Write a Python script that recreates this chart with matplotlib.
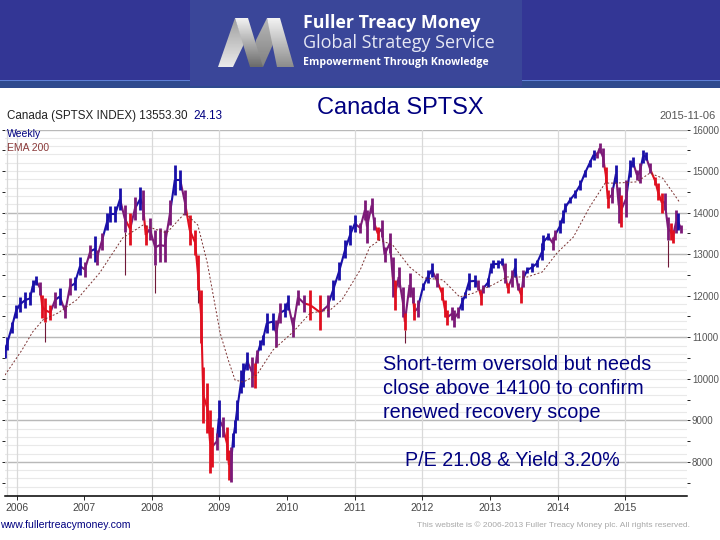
import numpy as np
import matplotlib
matplotlib.use("Agg")
import matplotlib.pyplot as plt
from matplotlib.patches import Rectangle, Polygon
from matplotlib.collections import LineCollection

plt.rcParams['font.family'] = ['Liberation Sans', 'DejaVu Sans']

# decimal year, bar high, bar low
years = [2005.83, 2005.86, 2005.93, 2005.99, 2006.05, 2006.13, 2006.20, 2006.24, 2006.29, 2006.35,
         2006.38, 2006.42, 2006.50, 2006.57, 2006.64, 2006.72, 2006.79, 2006.86, 2006.94, 2007.01,
         2007.09, 2007.16, 2007.19, 2007.26, 2007.34, 2007.38, 2007.46, 2007.53, 2007.60, 2007.68,
         2007.75, 2007.83, 2007.87, 2007.91, 2007.97, 2008.05, 2008.12, 2008.19, 2008.27, 2008.34,
         2008.42, 2008.49, 2008.56, 2008.64, 2008.68, 2008.73, 2008.76, 2008.82, 2008.86, 2008.89,
         2008.96, 2008.99, 2009.05, 2009.11, 2009.14, 2009.17, 2009.20, 2009.23, 2009.26, 2009.32,
         2009.35, 2009.41, 2009.48, 2009.52, 2009.55, 2009.60, 2009.64, 2009.70, 2009.79, 2009.84,
         2009.89, 2009.97, 2010.01, 2010.09, 2010.16, 2010.25, 2010.34, 2010.49, 2010.60, 2010.68,
         2010.77, 2010.86, 2010.93, 2011.00, 2011.08, 2011.15, 2011.18, 2011.25, 2011.29, 2011.34,
         2011.40, 2011.44, 2011.52, 2011.56, 2011.59, 2011.65, 2011.71, 2011.74, 2011.81, 2011.86,
         2011.88, 2011.93, 2012.01, 2012.08, 2012.14, 2012.21, 2012.29, 2012.33, 2012.36, 2012.44,
         2012.47, 2012.53, 2012.58, 2012.63, 2012.69, 2012.78, 2012.82, 2012.87, 2012.89, 2012.97,
         2013.01, 2013.04, 2013.12, 2013.18, 2013.22, 2013.26, 2013.32, 2013.37, 2013.41, 2013.46,
         2013.49, 2013.55, 2013.62, 2013.69, 2013.77, 2013.78, 2013.86, 2013.93, 2013.96, 2014.03,
         2014.08, 2014.11, 2014.18, 2014.25, 2014.33, 2014.40, 2014.47, 2014.53, 2014.58, 2014.62,
         2014.67, 2014.71, 2014.74, 2014.80, 2014.86, 2014.90, 2014.93, 2015.01, 2015.07, 2015.11,
         2015.17, 2015.21, 2015.26, 2015.30, 2015.36, 2015.44, 2015.48, 2015.54, 2015.58, 2015.63,
         2015.67, 2015.70, 2015.75, 2015.78, 2015.82]
highs = [10810, 11000, 11370, 11770, 11970, 12090, 12090, 12380, 12470, 12330,
         12020, 11940, 11770, 12090, 12180, 11770, 12420, 12450, 12930, 12810,
         13220, 13440, 13100, 13510, 13990, 14160, 14160, 14590, 14180, 13990,
         14370, 14610, 14540, 13700, 13870, 13580, 13630, 13580, 14300, 15150,
         15030, 14540, 13940, 13580, 12980, 12140, 10280, 9900, 9250, 8840,
         8690, 9490, 9080, 8840, 8290, 8360, 8690, 9010, 9490, 10210,
         10380, 10640, 10520, 10380, 10690, 10930, 11050, 11580, 11580, 11410,
         11820, 11820, 12020, 11490, 12140, 12020, 12140, 12020, 12020, 12380,
         12810, 13340, 13700, 13940, 13750, 14300, 14060, 14350, 13890, 13650,
         13820, 13170, 13510, 12930, 12380, 12690, 12210, 11580, 12550, 12210,
         11820, 11900, 12300, 12620, 12790, 12550, 12210, 11900, 11650, 11730,
         11650, 11730, 11970, 12090, 12550, 12500, 12380, 12140, 12260, 12430,
         12790, 12860, 12860, 12910, 12790, 12300, 12620, 12910, 12300, 12210,
         12620, 12690, 12790, 12860, 13270, 13460, 13510, 13410, 13580, 13820,
         14060, 14230, 14370, 14540, 14780, 15030, 15270, 15510, 15460, 15680,
         15550, 15100, 14540, 14620, 15150, 14620, 14420, 14780, 15270, 15340,
         15030, 15190, 15510, 15460, 15190, 14860, 14710, 14470, 14470, 13890,
         13750, 13580, 14060, 13990, 13700]
lows = [10500, 10690, 11100, 11460, 11610, 11700, 11780, 12090, 12260, 12020,
        11460, 11370, 11415, 11700, 11780, 11460, 12020, 12130, 12500, 12450,
        12910, 12810, 12740, 13100, 13580, 13770, 13770, 14060, 13530, 13220,
        13820, 14060, 13820, 13220, 13340, 12740, 12810, 12810, 13700, 14420,
        14540, 13940, 13220, 12980, 12140, 10860, 8940, 8690, 7730, 7880,
        8290, 8600, 8600, 8050, 7560, 7520, 8360, 8690, 9010, 9660,
        9800, 10210, 9800, 9780, 10380, 10690, 10810, 11100, 11170, 10770,
        11340, 11490, 11650, 11000, 11780, 11610, 11410, 11170, 11490, 11900,
        12380, 12910, 13220, 13530, 13510, 13820, 13270, 13990, 13580, 13340,
        13410, 12810, 13030, 11970, 11650, 12210, 11490, 11170, 11970, 11820,
        11410, 11490, 12140, 12300, 12450, 12210, 11900, 11490, 11290, 11410,
        11250, 11460, 11650, 11940, 12140, 12210, 12140, 11780, 12060, 12210,
        12550, 12670, 12670, 12740, 12300, 12060, 12210, 12450, 12140, 11820,
        12210, 12550, 12570, 12690, 12860, 13100, 13340, 13100, 13340, 13510,
        13750, 14010, 14230, 14350, 14540, 14860, 15100, 15270, 15310, 15430,
        15100, 14710, 14110, 14230, 14710, 13750, 13650, 13890, 14860, 15100,
        14780, 14710, 15190, 15270, 14950, 14660, 14300, 13990, 14060, 13340,
        13340, 13270, 13510, 13580, 13510]

# long thin spikes below the bars
spike_years = [2006.42, 2007.61, 2008.05, 2008.68, 2011.74, 2015.63]
spike_tops = [11370, 13530, 12740, 12140, 11170, 13340]
spike_lows = [10880, 12500, 12060, 11820, 10860, 12690]

ema_years = [2005.83, 2006.08, 2006.24, 2006.39, 2006.61, 2006.89, 2007.23, 2007.57, 2007.87, 2008.22,
             2008.49, 2008.68, 2008.82, 2008.92, 2009.01, 2009.13, 2009.23, 2009.35, 2009.55, 2009.79,
             2010.09, 2010.34, 2010.64, 2010.81, 2011.08, 2011.22, 2011.37, 2011.56, 2011.81, 2012.01,
             2012.30, 2012.55, 2012.75, 2013.04, 2013.25, 2013.55, 2013.77, 2013.99, 2014.23, 2014.47,
             2014.70, 2014.87, 2015.17, 2015.36, 2015.55, 2015.80]
ema_vals = [10090, 10690, 11130, 11415, 11580, 11900, 12550, 13390, 13700, 13510,
            13990, 13700, 12790, 11900, 11100, 10450, 9970, 9920, 10090, 10690,
            11130, 11580, 11660, 11900, 12620, 13170, 13340, 13220, 12690, 12430,
            12380, 11970, 12060, 12260, 12450, 12450, 12570, 13030, 13410, 14130,
            14710, 14710, 14740, 14950, 14830, 14250]

tick_years = [2006, 2007, 2008, 2009, 2010, 2011, 2012, 2013, 2014, 2015]
grid_years = [2005.86, 2006, 2008, 2009, 2011, 2012, 2014, 2015]
price_ticks = [16000, 15000, 14000, 13000, 12000, 11000, 10000, 9000, 8000]
heavy_prices = [16000, 14000, 13000, 11000, 9000, 8000]

W, H = 720, 540
fig = plt.figure(figsize=(7.2, 5.4), dpi=100)

# chart area in picture pixels
left, right, top, bottom = 5, 687, 129.5, 496
ax = fig.add_axes([left / W, 1 - bottom / H, (right - left) / W, (bottom - top) / H])
ax.set_xlim(2005.83, 2015.91)
ax.set_ylim(7178, 16000)

for p in np.arange(7400, 16000, 200):
    ax.axhline(p, color='#e9e9e9', lw=0.8, zorder=1)
for p in heavy_prices:
    ax.axhline(p, color='#b9b9b9', lw=1.0, zorder=2)
for y in grid_years:
    ax.axvline(y, color='#d9d9d9', lw=0.9, zorder=2)

mids = [(h + l) / 2 for h, l in zip(highs, lows)]
BLUE, RED, PURPLE = '#1a10a8', '#e01020', '#7c1a78'
bar_colors = []
prev_up = True
for i in range(len(years)):
    up = mids[i] >= mids[i - 1] if i else True
    if up == prev_up:
        bar_colors.append(BLUE if up else RED)
    else:
        bar_colors.append(PURPLE)
    prev_up = up

# weekly bars overlap in the reference, so tie neighbours together
segs = [[(years[i], mids[i]), (years[i + 1], mids[i + 1])] for i in range(len(years) - 1)]
ax.add_collection(LineCollection(segs, colors=bar_colors[1:], linewidths=1.5, zorder=3))
ax.vlines(spike_years, spike_lows, spike_tops, color='#701838', lw=0.8, zorder=3)
ax.vlines(years, lows, highs, colors=bar_colors, lw=2.0, zorder=4)
ax.plot(ema_years, ema_vals, color='#7a3030', lw=0.7, ls=(0, (2, 2)), zorder=5)

for s in ['top', 'left', 'right']:
    ax.spines[s].set_visible(False)
ax.spines['bottom'].set_linewidth(1.1)
ax.set_xticks(tick_years)
ax.set_xticklabels(tick_years, fontsize=7.5, color='#444444')
ax.yaxis.tick_right()
ax.set_yticks(price_ticks)
ax.set_yticklabels(price_ticks, fontsize=7, color='#555555')
ax.set_yticks(np.arange(7500, 16000, 500), minor=True)
ax.tick_params(axis='x', length=3, width=0.6, pad=2)
ax.tick_params(axis='y', which='both', left=True, length=2, width=0.6, pad=1.5)

# overlay in pixel coordinates for banner and captions
ov = fig.add_axes([0, 0, 1, 1], zorder=10)
ov.set_xlim(0, W)
ov.set_ylim(H, 0)
ov.axis('off')
ov.patch.set_alpha(0)

ov.add_patch(Rectangle((0, 0), W, 88, color='#333695', lw=0))
ov.add_patch(Rectangle((0, 80), W, 8, color='#2f4a8e', lw=0))
ov.add_patch(Rectangle((0, 79.5), W, 1.2, color='#5f7fd6', lw=0))
ov.add_patch(Rectangle((190, 0), 332, 86, color='#3a4699', lw=0))

# logo M, four shaded strips
strips = [([(218, 67), (235, 18), (244, 44), (233, 67)], 0.62, 0.92),
          ([(250, 67), (256, 40), (267, 18), (274, 42), (263, 67)], 0.72, 0.5),
          ([(235, 18), (248, 18), (263, 67), (250, 67)], 0.95, 0.42),
          ([(267, 18), (280, 18), (294, 67), (277, 67)], 0.95, 0.55)]
for pts, g_top, g_bot in strips:
    shade = np.linspace(g_top, g_bot, 64).reshape(-1, 1)
    im = ov.imshow(shade, cmap='gray', vmin=0, vmax=1, extent=(218, 294, 67, 18),
                   aspect='auto', zorder=3)
    poly = Polygon(pts, closed=True, transform=ov.transData, fc='none', ec='none')
    ov.add_patch(poly)
    im.set_clip_path(poly)
ov.set_xlim(0, W)
ov.set_ylim(H, 0)

ov.text(303, 23, 'Fuller Treacy Money', color='white', fontsize=12.8, fontweight='bold',
        family=['Open Sans', 'DejaVu Sans'], va='center')
ov.text(303, 43, 'Global Strategy Service', color='#e6e8f4', fontsize=13,
        family=['Open Sans', 'DejaVu Sans'], va='center')
ov.text(303, 62, 'Empowerment Through Knowledge', color='white', fontsize=7.6, fontweight='bold',
        family=['Open Sans', 'DejaVu Sans'], va='center')

ov.text(400, 108, 'Canada SPTSX', color='#000080', fontsize=17, ha='center', va='center')
ov.text(7, 116, 'Canada (SPTSX INDEX) 13553.30', color='#222222', fontsize=8.4, va='center')
ov.text(193, 116, '24.13', color='#000080', fontsize=8.4, va='center')
ov.text(716, 116, '2015-11-06', color='#555555', fontsize=8, ha='right', va='center')
ov.text(7, 134, 'Weekly', color='#000080', fontsize=7.5, va='center')
ov.text(7, 148, 'EMA 200', color='#8b3a3a', fontsize=7.5, va='center')

for y, line in [(365, 'Short-term oversold but needs'),
                (389, 'close above 14100 to confirm'),
                (413, 'renewed recovery scope')]:
    ov.text(383, y, line, color='#000080', fontsize=14.3, va='center')
ov.text(405, 461, 'P/E 21.08 & Yield 3.20%', color='#000080', fontsize=14.1, va='center')

ov.text(0, 525, 'www.fullertreacymoney.com', color='#000080', fontsize=7.6, va='center')
ov.text(690, 525, 'This website is © 2006-2013 Fuller Treacy Money plc. All rights reserved.',
        color='#a8a8a8', fontsize=6.0, ha='right', va='center')

fig.savefig('out.png', dpi=100)
